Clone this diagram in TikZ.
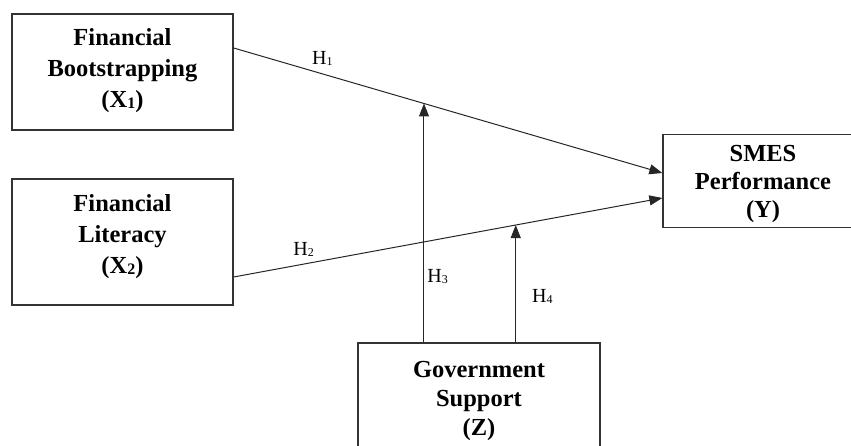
\documentclass[tikz,border=0pt]{standalone}
\usepackage{fontspec}
\setmainfont{Liberation Serif}
\usetikzlibrary{arrows.meta,calc}
\tikzset{>={Triangle[length=13pt,width=10pt]}}
\tikzset{varbox/.style={draw=black!80,line width=1.3pt,inner sep=0pt}}
\tikzset{vartext/.style={align=center,inner sep=0pt,font=\fontsize{24.5}{31}\selectfont\bfseries}}
\tikzset{hyp/.style={inner sep=0pt,font=\fontsize{20}{20}\selectfont}}
\tikzset{path/.style={draw=black!85,line width=1pt}}
\newcommand{\hsub}[1]{\raisebox{-1pt}{\fontsize{12}{12}\selectfont #1}}
\newcommand{\xsub}[1]{\raisebox{-1pt}{\fontsize{16}{16}\selectfont #1}}

\begin{document}
\begin{tikzpicture}[x=1pt,y=-1pt]
    \clip (0,0) rectangle (851,446);
    % boxes
    \node[varbox,minimum width=221pt,minimum height=116pt] (x1) at (122.5,72) {};
    \node[varbox,minimum width=221pt,minimum height=126pt] (x2) at (122.5,242) {};
    \node[varbox,minimum width=200pt,minimum height=93pt] (y) at (763,181) {};
    \node[varbox,minimum width=242pt,minimum height=130pt] (z) at (479,408) {};
    % texts
    \node[vartext] (x1t) at (122.5,71) {Financial\\Bootstrapping\\(X\xsub{1})};
    \node[vartext] (x2t) at (122.5,237) {Financial\\Literacy\\(X\xsub{2})};
    \node[vartext] (yt) at (763,184) {SMES\\[-3pt]Performance\\[-3pt](Y)};
    \node[vartext] (zt) at (479,401) {Government\\[-2pt]Support\\[-2pt](Z)};
    % direct paths
    \draw[path,->] ([yshift=24pt]x1.east) -- coordinate[pos=0.444] (m1)
        node[hyp,pos=0.207,above=8pt] (h1) {H\hsub{1}} ([yshift=8pt]y.west);
    \draw[path,->] ([yshift=-35pt]x2.east) -- coordinate[pos=0.658] (m2)
        node[hyp,pos=0.163,above=7pt] (h2) {H\hsub{2}} ([yshift=-17pt]y.west);
    % moderation
    \draw[path,->] (z.north -| m1) -- node[hyp,pos=0.276,right=3pt] (h3) {H\hsub{3}} (m1);
    \draw[path,->] (z.north -| m2) -- node[hyp,pos=0.39,right=16pt] (h4) {H\hsub{4}} (m2);
\end{tikzpicture}
\end{document}
